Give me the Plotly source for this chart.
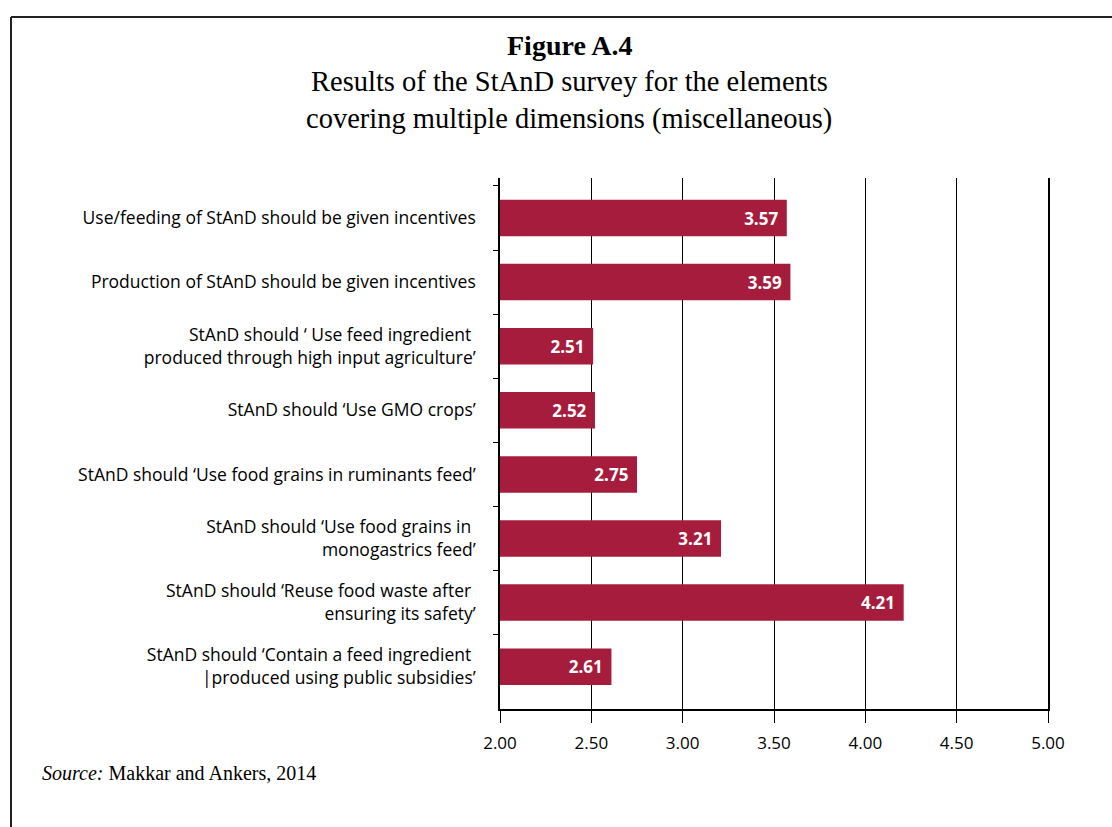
import plotly.graph_objects as go

categories = [
    "Use/feeding of StAnD should be given incentives",
    "Production of StAnD should be given incentives",
    "StAnD should \u2018 Use feed ingredient <br>produced through high input agriculture\u2019",
    "StAnD should \u2018Use GMO crops\u2019",
    "StAnD should \u2018Use food grains in ruminants feed\u2019",
    "StAnD should \u2018Use food grains in <br>monogastrics feed\u2019",
    "StAnD should \u2018Reuse food waste after <br>ensuring its safety\u2019",
    "StAnD should \u2018Contain a feed ingredient <br>|produced using public subsidies\u2019",
]
values = [3.57, 3.59, 2.51, 2.52, 2.75, 3.21, 4.21, 2.61]
x_ticks = [2.0, 2.5, 3.0, 3.5, 4.0, 4.5, 5.0]
x_tick_labels = ["2.00", "2.50", "3.00", "3.50", "4.00", "4.50", "5.00"]

BAR = "#A61C3C"
SANS = "Open Sans, Noto Sans, sans-serif"
SERIF = "Liberation Serif, Times New Roman, serif"

L, R, T, B = 500, 64, 178, 118
PW = 1112 - L - R
PH = 827 - T - B


def px_x(x):
    return (x - L) / PW


def px_y(y):
    return (827 - B - y) / PH


fig = go.Figure()
fig.add_trace(go.Bar(
    x=values, y=categories, orientation="h",
    marker=dict(color=BAR, line=dict(width=0)),
    width=0.57,
    text=[f"{v:.2f}\u2009\u2009" for v in values],
    textposition="inside", insidetextanchor="end",
    textfont=dict(color="white", size=17, family=SANS, weight="bold"),
    cliponaxis=False,
    hoverinfo="skip",
))

fig.update_layout(
    width=1112, height=827,
    margin=dict(l=L, r=R, t=T, b=B),
    paper_bgcolor="white", plot_bgcolor="white",
    showlegend=False,
    xaxis=dict(
        range=[2, 5], tickvals=x_ticks, ticktext=x_tick_labels,
        showgrid=True, gridcolor="black", gridwidth=1,
        showline=True, linecolor="black", linewidth=1.5,
        ticks="outside", ticklen=12, tickcolor="black", tickwidth=1,
        tickfont=dict(family=SANS, size=17, color="black"),
        ticklabelstandoff=6,
        zeroline=False, fixedrange=True,
    ),
    yaxis=dict(
        type="category", categoryorder="array", categoryarray=categories,
        range=[7.66, -0.624],
        showline=True, linecolor="black", linewidth=1.5, mirror=True,
        ticks="outside", ticklen=5, tickcolor="black", tickwidth=1,
        tickson="boundaries",
        tickfont=dict(family=SANS, size=17.5, color="black"),
        ticklabelstandoff=19,
        showgrid=False, zeroline=False, fixedrange=True,
    ),
)

# Frame around figure
fig.add_shape(type="line", xref="paper", yref="paper",
              x0=px_x(11), x1=1.3, y0=px_y(17), y1=px_y(17),
              line=dict(color="#222222", width=2))
fig.add_shape(type="line", xref="paper", yref="paper",
              x0=px_x(11), x1=px_x(11), y0=px_y(17), y1=-0.4,
              line=dict(color="#222222", width=2))

cx = px_x(569)
fig.add_annotation(text="<b>Figure A.4</b>", xref="paper", yref="paper",
                   x=cx, y=px_y(45), showarrow=False,
                   xanchor="center", yanchor="middle",
                   font=dict(family=SERIF, size=28, color="black"))
fig.add_annotation(text="Results of the StAnD survey for the elements",
                   xref="paper", yref="paper",
                   x=cx, y=px_y(81), showarrow=False,
                   xanchor="center", yanchor="middle",
                   font=dict(family=SERIF, size=28.5, color="black"))
fig.add_annotation(text="covering multiple dimensions (miscellaneous)",
                   xref="paper", yref="paper",
                   x=cx, y=px_y(119), showarrow=False,
                   xanchor="center", yanchor="middle",
                   font=dict(family=SERIF, size=28.5, color="black"))
fig.add_annotation(text="<i>Source:</i> Makkar and Ankers, 2014",
                   xref="paper", yref="paper",
                   x=px_x(40), y=px_y(773), showarrow=False,
                   xanchor="left", yanchor="middle",
                   font=dict(family=SERIF, size=20, color="black"))

fig.write_html("out.html")
